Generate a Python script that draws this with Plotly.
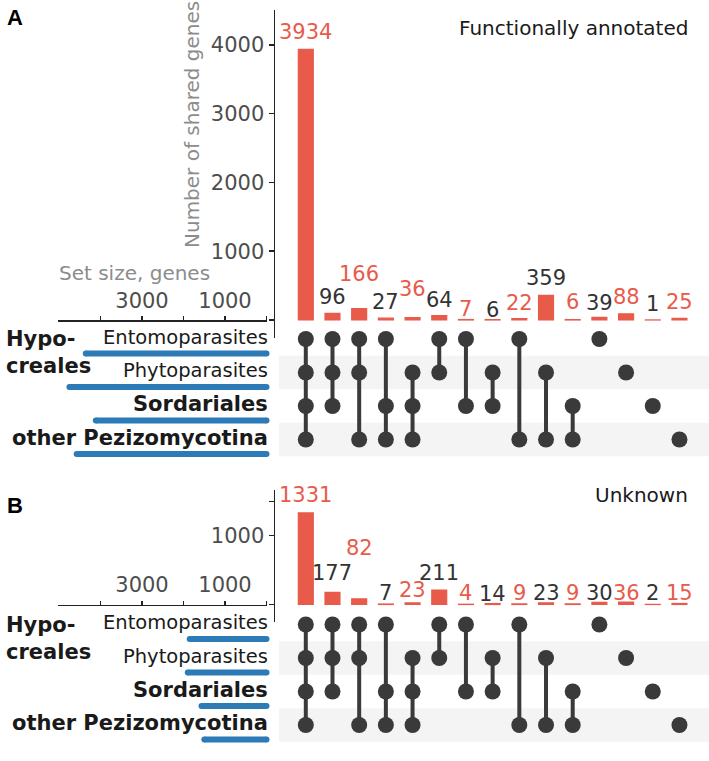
import plotly.graph_objects as go

# ---------------- data ----------------
set_names = ["Entomoparasites", "Phytoparasites", "Sordariales", "other Pezizomycotina"]
combos = [
    ["Entomoparasites", "Phytoparasites", "Sordariales", "other Pezizomycotina"],
    ["Entomoparasites", "Phytoparasites", "Sordariales"],
    ["Entomoparasites", "Phytoparasites", "other Pezizomycotina"],
    ["Entomoparasites", "Sordariales", "other Pezizomycotina"],
    ["Phytoparasites", "Sordariales", "other Pezizomycotina"],
    ["Entomoparasites", "Phytoparasites"],
    ["Entomoparasites", "Sordariales"],
    ["Phytoparasites", "Sordariales"],
    ["Entomoparasites", "other Pezizomycotina"],
    ["Phytoparasites", "other Pezizomycotina"],
    ["Sordariales", "other Pezizomycotina"],
    ["Entomoparasites"],
    ["Phytoparasites"],
    ["Sordariales"],
    ["other Pezizomycotina"],
]
counts_annotated = [3934, 96, 166, 27, 36, 64, 7, 6, 22, 359, 6, 39, 88, 1, 25]
counts_unknown = [1331, 177, 82, 7, 23, 211, 4, 14, 9, 23, 9, 30, 36, 2, 15]
set_ticks = [0, 1000, 2000, 3000, 4000]
set_ticktext = ["", "1000", "", "3000", ""]

# label nudges (style, px) to avoid overlaps as in the original
lift_a = [1, 0, 19, 0, 13, 0, -5, -6, -1, 1, 2, -2, 1, 0, 0]
lift_b = [2, 3, 35, -5, -3, 1, -5, -6, -5, -6, -5, -7, -7, -5, -6]

# ---------------- style ----------------
W, H = 709, 761
RED = "#E85B4B"
DARK = "#333333"
DOT = "#3a3a3a"
BLUE = "#2C7BB6"
GREY_T = "#8c8c8c"
TICK = "#4d4d4d"
FONT = "DejaVu Sans"


def px(x):
    return x / W


def py(y):
    return 1 - y / H


COL0, STEP = 305.8, 26.69
ROW_STEP = 33.5
PX_PER_UNIT = 0.0688
SS0, SS_PX = 266.5, 0.0415  # set size axis: zero pixel, px per gene

panels = [
    dict(counts=counts_annotated, title="Functionally annotated", lift=lift_a, letter="A",
         axis_top=10, zero=320, axis_bottom=338, row0=339, title_y=28, letter_y=18,
         yticks=[0, 1000, 2000, 3000, 4000], yticktext=["", "1000", "2000", "3000", "4000"]),
    dict(counts=counts_unknown, title="Unknown", lift=lift_b, letter="B",
         axis_top=490, zero=604.5, axis_bottom=622, row0=624.5, title_y=495, letter_y=506,
         yticks=[0, 1000, 1500], yticktext=["", "1000", ""]),
]

fig = go.Figure()
layout = dict(
    width=W, height=H, margin=dict(l=0, r=0, t=0, b=0),
    paper_bgcolor="white", plot_bgcolor="rgba(0,0,0,0)",
    showlegend=False, font=dict(family=FONT, color=DARK),
)
annotations = []
shapes = []

ncol = len(combos)
for k, p in enumerate(panels):
    xc_i, xs_i = 2 * k + 1, 2 * k + 2  # columns axis, set-size axis
    yb_i, yr_i = 2 * k + 1, 2 * k + 2  # bars axis, rows axis
    xc = "x" if xc_i == 1 else f"x{xc_i}"
    xs = f"x{xs_i}"
    yb = "y" if yb_i == 1 else f"y{yb_i}"
    yr = f"y{yr_i}"
    xc_key = "xaxis" if xc_i == 1 else f"xaxis{xc_i}"
    yb_key = "yaxis" if yb_i == 1 else f"yaxis{yb_i}"

    # columns axis (hidden)
    layout[xc_key] = dict(
        domain=[px(275), 1],
        range=[(275 - COL0) / STEP, (W - COL0) / STEP],
        visible=False, anchor=yb, fixedrange=True,
    )
    # bar count axis
    layout[yb_key] = dict(
        domain=[py(p["axis_bottom"]), py(p["axis_top"])],
        range=[(p["zero"] - p["axis_bottom"]) / PX_PER_UNIT, (p["zero"] - p["axis_top"]) / PX_PER_UNIT],
        anchor=xc, showline=True, linecolor="#222222", linewidth=1.5,
        ticks="outside", ticklen=5, tickwidth=1.5, tickcolor="#222222",
        tickvals=p["yticks"], ticktext=p["yticktext"],
        tickfont=dict(size=21, color=TICK, family=FONT),
        showgrid=False, zeroline=False,
    )
    # rows axis (hidden)
    top_px, bot_px = p["row0"] - 17, p["row0"] + 3 * ROW_STEP + 18
    layout[f"yaxis{yr_i}"] = dict(
        domain=[py(bot_px), py(top_px)],
        range=[(bot_px - p["row0"]) / ROW_STEP, (top_px - p["row0"]) / ROW_STEP],
        visible=False, anchor=xc,
    )
    # set size axis
    layout[f"xaxis{xs_i}"] = dict(
        domain=[px(58), px(SS0)],
        range=[(SS0 - 58) / SS_PX, 0],
        anchor="free", position=py(p["zero"]), side="top",
        showline=True, linecolor="#222222", linewidth=1.5,
        ticks="outside", ticklen=4, tickwidth=1.5, tickcolor="#222222",
        tickvals=set_ticks, ticktext=set_ticktext,
        tickfont=dict(size=21, color=TICK, family=FONT),
        showgrid=False, zeroline=False,
    )

    counts = p["counts"]
    # bars
    fig.add_trace(go.Bar(
        x=list(range(ncol)), y=counts, width=0.56,
        marker=dict(color=RED, line=dict(color=RED, width=1.2)),
        xaxis=xc, yaxis=yb, hoverinfo="skip",
    ))
    for i, v in enumerate(counts):
        annotations.append(dict(
            x=i, y=v, xref=xc, yref=yb, text=str(v), showarrow=False,
            yanchor="middle", xanchor="center", yshift=16 + p["lift"][i],
            font=dict(size=21, color=RED if i % 2 == 0 else DARK, family=FONT),
        ))

    # background bands
    for r in (1, 3):
        shapes.append(dict(
            type="rect", xref="paper", x0=px(279), x1=1, yref=yr, y0=r - 0.5, y1=r + 0.5,
            fillcolor="#F4F4F4", line=dict(width=0), layer="below",
        ))

    # connectors
    lx, ly = [], []
    for i, c in enumerate(combos):
        rows = [set_names.index(s) for s in c]
        if len(rows) > 1:
            lx += [i, i, None]
            ly += [min(rows), max(rows), None]
    fig.add_trace(go.Scatter(x=lx, y=ly, mode="lines", line=dict(color=DOT, width=4),
                             xaxis=xc, yaxis=yr, hoverinfo="skip"))
    # dots
    dx, dy = [], []
    for i, c in enumerate(combos):
        for s in c:
            dx.append(i)
            dy.append(set_names.index(s))
    fig.add_trace(go.Scatter(x=dx, y=dy, mode="markers",
                             marker=dict(color=DOT, size=16, line=dict(width=0)),
                             xaxis=xc, yaxis=yr, hoverinfo="skip"))

    # set size bars (blue)
    off = 14.5 / ROW_STEP
    for r, s in enumerate(set_names):
        size = sum(v for v, c in zip(counts, combos) if s in c)
        fig.add_trace(go.Scatter(
            x=[0, size], y=[r + off, r + off], mode="lines+markers",
            line=dict(color=BLUE, width=6), marker=dict(color=BLUE, size=6),
            xaxis=xs, yaxis=yr, hoverinfo="skip", cliponaxis=False,
        ))

    # set labels
    for r, s in enumerate(set_names):
        bold = r >= 2
        annotations.append(dict(
            x=px(270), xref="paper", xanchor="right", y=r, yref=yr, yanchor="middle", yshift=2,
            text=f"<b>{s}</b>" if bold else s, showarrow=False,
            font=dict(size=21 if bold else 19.5, color="#1a1a1a", family=FONT),
        ))
    annotations.append(dict(x=px(4), xref="paper", xanchor="left", y=0, yref=yr, yanchor="middle",
                            yshift=0, text="<b>Hypo-</b>", showarrow=False,
                            font=dict(size=21, color="#1a1a1a", family=FONT)))
    annotations.append(dict(x=px(4), xref="paper", xanchor="left", y=0, yref=yr, yanchor="middle",
                            yshift=-27, text="<b>creales</b>", showarrow=False,
                            font=dict(size=21, color="#1a1a1a", family=FONT)))

    # panel title and letter
    annotations.append(dict(x=px(690), xref="paper", xanchor="right", y=py(p["title_y"]), yref="paper",
                            yanchor="middle", text=p["title"], showarrow=False,
                            font=dict(size=20, color="#1a1a1a", family=FONT)))
    annotations.append(dict(x=px(5), xref="paper", xanchor="left", y=py(p["letter_y"]), yref="paper",
                            yanchor="middle", text=f"<b>{p['letter']}</b>", showarrow=False,
                            font=dict(size=22, color="#000000", family="Liberation Sans")))

# axis titles (panel A)
annotations.append(dict(x=px(192), xref="paper", y=py(125), yref="paper", xanchor="center", yanchor="middle",
                        text="Number of shared genes", textangle=-90, showarrow=False,
                        font=dict(size=20, color=GREY_T, family=FONT)))
annotations.append(dict(x=px(134), xref="paper", y=py(273), yref="paper", xanchor="center", yanchor="middle",
                        text="Set size, genes", showarrow=False,
                        font=dict(size=20, color=GREY_T, family=FONT)))

layout["annotations"] = annotations
layout["shapes"] = shapes
layout["bargap"] = 0
fig.update_layout(**layout)

fig.write_html(
    "out.html",
    config={"displayModeBar": False, "staticPlot": True},
    post_script="document.body.style.margin='0px';document.body.style.overflow='hidden';",
)
